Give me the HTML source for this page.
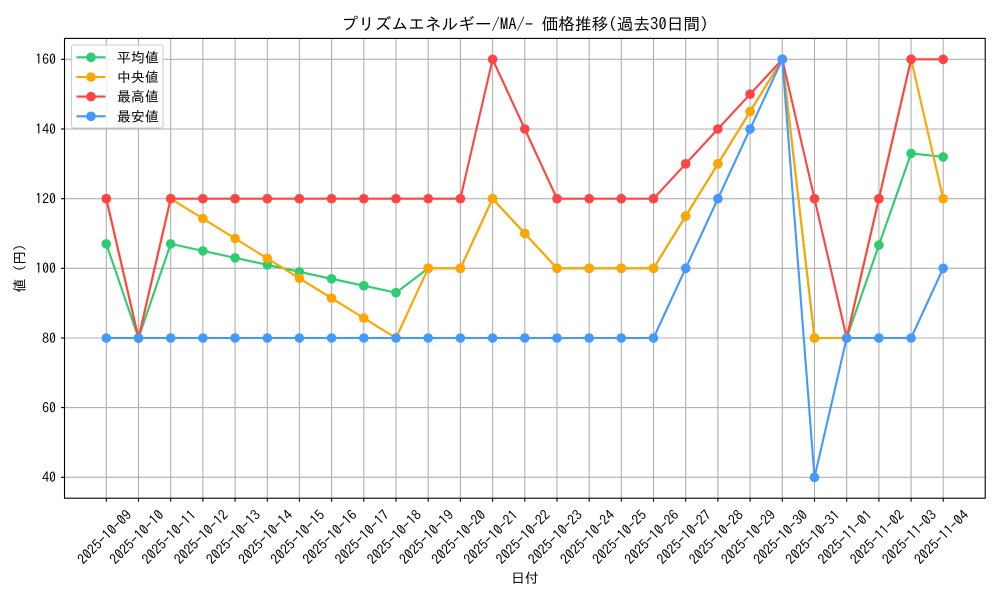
<!DOCTYPE html>
<html><head><meta charset="utf-8"><style>
html,body{margin:0;padding:0;background:#fff;}
svg{display:block;font-family:"IPAGothic","Liberation Sans","Noto Sans CJK JP",sans-serif;}
</style></head><body>
<svg width="1000" height="600" viewBox="0 0 1000 600" xmlns="http://www.w3.org/2000/svg">
<defs>
<marker id="mg" viewBox="-6 -6 12 12" markerWidth="12" markerHeight="12" markerUnits="userSpaceOnUse" refX="0" refY="0"><circle r="4.8" fill="#2ecc71"/></marker>
<marker id="mo" viewBox="-6 -6 12 12" markerWidth="12" markerHeight="12" markerUnits="userSpaceOnUse" refX="0" refY="0"><circle r="4.8" fill="#ffa500"/></marker>
<marker id="mr" viewBox="-6 -6 12 12" markerWidth="12" markerHeight="12" markerUnits="userSpaceOnUse" refX="0" refY="0"><circle r="4.8" fill="#ff4444"/></marker>
<marker id="mb" viewBox="-6 -6 12 12" markerWidth="12" markerHeight="12" markerUnits="userSpaceOnUse" refX="0" refY="0"><circle r="4.8" fill="#4499ff"/></marker>
</defs>
<rect width="1000" height="600" fill="#fff"/>
<!-- grid -->
<g stroke="#b0b0b0" stroke-width="1.1">
<line x1="106.3" y1="38.4" x2="106.3" y2="498.2"/>
<line x1="138.5" y1="38.4" x2="138.5" y2="498.2"/>
<line x1="170.7" y1="38.4" x2="170.7" y2="498.2"/>
<line x1="202.9" y1="38.4" x2="202.9" y2="498.2"/>
<line x1="235.1" y1="38.4" x2="235.1" y2="498.2"/>
<line x1="267.3" y1="38.4" x2="267.3" y2="498.2"/>
<line x1="299.4" y1="38.4" x2="299.4" y2="498.2"/>
<line x1="331.6" y1="38.4" x2="331.6" y2="498.2"/>
<line x1="363.8" y1="38.4" x2="363.8" y2="498.2"/>
<line x1="396.0" y1="38.4" x2="396.0" y2="498.2"/>
<line x1="428.2" y1="38.4" x2="428.2" y2="498.2"/>
<line x1="460.4" y1="38.4" x2="460.4" y2="498.2"/>
<line x1="492.6" y1="38.4" x2="492.6" y2="498.2"/>
<line x1="524.8" y1="38.4" x2="524.8" y2="498.2"/>
<line x1="557.0" y1="38.4" x2="557.0" y2="498.2"/>
<line x1="589.2" y1="38.4" x2="589.2" y2="498.2"/>
<line x1="621.3" y1="38.4" x2="621.3" y2="498.2"/>
<line x1="653.5" y1="38.4" x2="653.5" y2="498.2"/>
<line x1="685.7" y1="38.4" x2="685.7" y2="498.2"/>
<line x1="717.9" y1="38.4" x2="717.9" y2="498.2"/>
<line x1="750.1" y1="38.4" x2="750.1" y2="498.2"/>
<line x1="782.3" y1="38.4" x2="782.3" y2="498.2"/>
<line x1="814.5" y1="38.4" x2="814.5" y2="498.2"/>
<line x1="846.7" y1="38.4" x2="846.7" y2="498.2"/>
<line x1="878.9" y1="38.4" x2="878.9" y2="498.2"/>
<line x1="911.1" y1="38.4" x2="911.1" y2="498.2"/>
<line x1="943.2" y1="38.4" x2="943.2" y2="498.2"/>
<line x1="64.5" y1="59.3" x2="985.2" y2="59.3"/>
<line x1="64.5" y1="129.0" x2="985.2" y2="129.0"/>
<line x1="64.5" y1="198.7" x2="985.2" y2="198.7"/>
<line x1="64.5" y1="268.3" x2="985.2" y2="268.3"/>
<line x1="64.5" y1="338.0" x2="985.2" y2="338.0"/>
<line x1="64.5" y1="407.6" x2="985.2" y2="407.6"/>
<line x1="64.5" y1="477.3" x2="985.2" y2="477.3"/>
</g>
<!-- series -->
<g fill="none" stroke-width="2.1" stroke-linejoin="round" stroke-linecap="square">
<polyline stroke="#2ecc71" marker-start="url(#mg)" marker-mid="url(#mg)" marker-end="url(#mg)" points="106.3,243.9 138.5,338.0 170.7,243.9 202.9,250.9 235.1,257.9 267.3,264.8 299.4,271.8 331.6,278.8 363.8,285.7 396.0,292.7 428.2,268.3 460.4,268.3 492.6,198.7 524.8,233.5 557.0,268.3 589.2,268.3 621.3,268.3 653.5,268.3 685.7,216.1 717.9,163.8 750.1,111.6 782.3,59.3 814.5,338.0 846.7,338.0 878.9,245.1 911.1,153.4 943.2,156.9"/>
<polyline stroke="#ffa500" marker-start="url(#mo)" marker-mid="url(#mo)" marker-end="url(#mo)" points="106.3,198.7 138.5,338.0 170.7,198.7 202.9,218.6 235.1,238.5 267.3,258.4 299.4,278.3 331.6,298.2 363.8,318.1 396.0,338.0 428.2,268.3 460.4,268.3 492.6,198.7 524.8,233.5 557.0,268.3 589.2,268.3 621.3,268.3 653.5,268.3 685.7,216.1 717.9,163.8 750.1,111.6 782.3,59.3 814.5,338.0 846.7,338.0 878.9,198.7 911.1,59.3 943.2,198.7"/>
<polyline stroke="#ff4444" marker-start="url(#mr)" marker-mid="url(#mr)" marker-end="url(#mr)" points="106.3,198.7 138.5,338.0 170.7,198.7 202.9,198.7 235.1,198.7 267.3,198.7 299.4,198.7 331.6,198.7 363.8,198.7 396.0,198.7 428.2,198.7 460.4,198.7 492.6,59.3 524.8,129.0 557.0,198.7 589.2,198.7 621.3,198.7 653.5,198.7 685.7,163.8 717.9,129.0 750.1,94.2 782.3,59.3 814.5,198.7 846.7,338.0 878.9,198.7 911.1,59.3 943.2,59.3"/>
<polyline stroke="#4499ff" marker-start="url(#mb)" marker-mid="url(#mb)" marker-end="url(#mb)" points="106.3,338.0 138.5,338.0 170.7,338.0 202.9,338.0 235.1,338.0 267.3,338.0 299.4,338.0 331.6,338.0 363.8,338.0 396.0,338.0 428.2,338.0 460.4,338.0 492.6,338.0 524.8,338.0 557.0,338.0 589.2,338.0 621.3,338.0 653.5,338.0 685.7,268.3 717.9,198.7 750.1,129.0 782.3,59.3 814.5,477.3 846.7,338.0 878.9,338.0 911.1,338.0 943.2,268.3"/>
</g>
<!-- spines -->
<rect x="64.5" y="38.4" width="920.7" height="459.8" fill="none" stroke="#000" stroke-width="1.1"/>
<!-- ticks -->
<g stroke="#000" stroke-width="1.1">
<line x1="61" y1="59.3" x2="64.5" y2="59.3"/>
<line x1="61" y1="129.0" x2="64.5" y2="129.0"/>
<line x1="61" y1="198.7" x2="64.5" y2="198.7"/>
<line x1="61" y1="268.3" x2="64.5" y2="268.3"/>
<line x1="61" y1="338.0" x2="64.5" y2="338.0"/>
<line x1="61" y1="407.6" x2="64.5" y2="407.6"/>
<line x1="61" y1="477.3" x2="64.5" y2="477.3"/>
<line x1="106.3" y1="498.2" x2="106.3" y2="501.7"/>
<line x1="138.5" y1="498.2" x2="138.5" y2="501.7"/>
<line x1="170.7" y1="498.2" x2="170.7" y2="501.7"/>
<line x1="202.9" y1="498.2" x2="202.9" y2="501.7"/>
<line x1="235.1" y1="498.2" x2="235.1" y2="501.7"/>
<line x1="267.3" y1="498.2" x2="267.3" y2="501.7"/>
<line x1="299.4" y1="498.2" x2="299.4" y2="501.7"/>
<line x1="331.6" y1="498.2" x2="331.6" y2="501.7"/>
<line x1="363.8" y1="498.2" x2="363.8" y2="501.7"/>
<line x1="396.0" y1="498.2" x2="396.0" y2="501.7"/>
<line x1="428.2" y1="498.2" x2="428.2" y2="501.7"/>
<line x1="460.4" y1="498.2" x2="460.4" y2="501.7"/>
<line x1="492.6" y1="498.2" x2="492.6" y2="501.7"/>
<line x1="524.8" y1="498.2" x2="524.8" y2="501.7"/>
<line x1="557.0" y1="498.2" x2="557.0" y2="501.7"/>
<line x1="589.2" y1="498.2" x2="589.2" y2="501.7"/>
<line x1="621.3" y1="498.2" x2="621.3" y2="501.7"/>
<line x1="653.5" y1="498.2" x2="653.5" y2="501.7"/>
<line x1="685.7" y1="498.2" x2="685.7" y2="501.7"/>
<line x1="717.9" y1="498.2" x2="717.9" y2="501.7"/>
<line x1="750.1" y1="498.2" x2="750.1" y2="501.7"/>
<line x1="782.3" y1="498.2" x2="782.3" y2="501.7"/>
<line x1="814.5" y1="498.2" x2="814.5" y2="501.7"/>
<line x1="846.7" y1="498.2" x2="846.7" y2="501.7"/>
<line x1="878.9" y1="498.2" x2="878.9" y2="501.7"/>
<line x1="911.1" y1="498.2" x2="911.1" y2="501.7"/>
<line x1="943.2" y1="498.2" x2="943.2" y2="501.7"/>
</g>
<!-- y tick labels -->
<g font-size="13.9" fill="#000" text-anchor="end">
<text x="56" y="64.2">160</text>
<text x="56" y="133.9">140</text>
<text x="56" y="203.6">120</text>
<text x="56" y="273.2">100</text>
<text x="56" y="342.9">80</text>
<text x="56" y="412.5">60</text>
<text x="56" y="482.2">40</text>
</g>
<!-- x tick labels -->
<g font-size="13.9" fill="#000" text-anchor="middle" dominant-baseline="central">
<text x="104.5" y="537" transform="rotate(-45 104.5 537)">2025-10-09</text>
<text x="136.7" y="537" transform="rotate(-45 136.7 537)">2025-10-10</text>
<text x="168.9" y="537" transform="rotate(-45 168.9 537)">2025-10-11</text>
<text x="201.1" y="537" transform="rotate(-45 201.1 537)">2025-10-12</text>
<text x="233.3" y="537" transform="rotate(-45 233.3 537)">2025-10-13</text>
<text x="265.5" y="537" transform="rotate(-45 265.5 537)">2025-10-14</text>
<text x="297.6" y="537" transform="rotate(-45 297.6 537)">2025-10-15</text>
<text x="329.8" y="537" transform="rotate(-45 329.8 537)">2025-10-16</text>
<text x="362.0" y="537" transform="rotate(-45 362.0 537)">2025-10-17</text>
<text x="394.2" y="537" transform="rotate(-45 394.2 537)">2025-10-18</text>
<text x="426.4" y="537" transform="rotate(-45 426.4 537)">2025-10-19</text>
<text x="458.6" y="537" transform="rotate(-45 458.6 537)">2025-10-20</text>
<text x="490.8" y="537" transform="rotate(-45 490.8 537)">2025-10-21</text>
<text x="523.0" y="537" transform="rotate(-45 523.0 537)">2025-10-22</text>
<text x="555.2" y="537" transform="rotate(-45 555.2 537)">2025-10-23</text>
<text x="587.4" y="537" transform="rotate(-45 587.4 537)">2025-10-24</text>
<text x="619.5" y="537" transform="rotate(-45 619.5 537)">2025-10-25</text>
<text x="651.7" y="537" transform="rotate(-45 651.7 537)">2025-10-26</text>
<text x="683.9" y="537" transform="rotate(-45 683.9 537)">2025-10-27</text>
<text x="716.1" y="537" transform="rotate(-45 716.1 537)">2025-10-28</text>
<text x="748.3" y="537" transform="rotate(-45 748.3 537)">2025-10-29</text>
<text x="780.5" y="537" transform="rotate(-45 780.5 537)">2025-10-30</text>
<text x="812.7" y="537" transform="rotate(-45 812.7 537)">2025-10-31</text>
<text x="844.9" y="537" transform="rotate(-45 844.9 537)">2025-11-01</text>
<text x="877.1" y="537" transform="rotate(-45 877.1 537)">2025-11-02</text>
<text x="909.3" y="537" transform="rotate(-45 909.3 537)">2025-11-03</text>
<text x="941.4" y="537" transform="rotate(-45 941.4 537)">2025-11-04</text>
</g>
<!-- axis labels and title -->
<text x="524.9" y="583" font-size="13.9" text-anchor="middle">日付</text>
<text x="0" y="0" font-size="13.9" text-anchor="middle" transform="translate(24.5 268.3) rotate(-90)">値 (円)</text>
<text x="524.9" y="30" font-size="16.7" text-anchor="middle">プリズムエネルギー/MA/- 価格推移(過去30日間)</text>
<!-- legend -->
<rect x="71.5" y="45" width="91.5" height="83" rx="2.5" fill="#fff" fill-opacity="0.8" stroke="#cccccc" stroke-width="1.1"/>
<g stroke-width="2.1">
<line x1="76.5" y1="57.3" x2="105.5" y2="57.3" stroke="#2ecc71"/><circle cx="91" cy="57.3" r="4.8" fill="#2ecc71"/>
<line x1="76.5" y1="77" x2="105.5" y2="77" stroke="#ffa500"/><circle cx="91" cy="77" r="4.8" fill="#ffa500"/>
<line x1="76.5" y1="96.6" x2="105.5" y2="96.6" stroke="#ff4444"/><circle cx="91" cy="96.6" r="4.8" fill="#ff4444"/>
<line x1="76.5" y1="116.3" x2="105.5" y2="116.3" stroke="#4499ff"/><circle cx="91" cy="116.3" r="4.8" fill="#4499ff"/>
</g>
<g font-size="13.9" fill="#000">
<text x="117" y="62.3">平均値</text>
<text x="117" y="82">中央値</text>
<text x="117" y="101.6">最高値</text>
<text x="117" y="121.3">最安値</text>
</g>
</svg>
</body></html>
